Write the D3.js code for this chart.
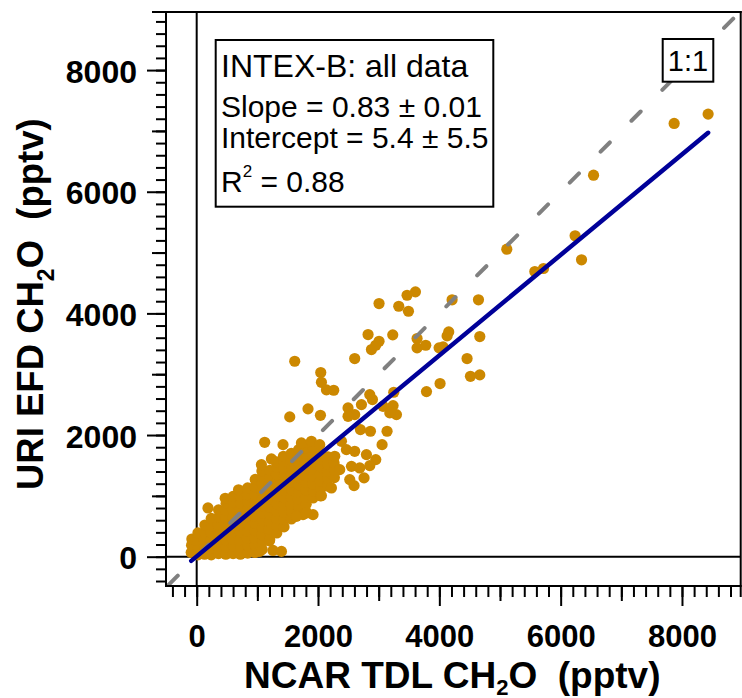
<!DOCTYPE html>
<html>
<head>
<meta charset="utf-8">
<script src="https://cdn.jsdelivr.net/npm/d3@7"></script>
<style>
  body { margin: 0; background: #fff; }
  text { font-family: "Liberation Sans", Arial, Helvetica, sans-serif; }
</style>
</head>
<body>
<svg id="chart"></svg>
<script>
// NCAR TDL (x) vs URI EFD (y) CH2O, pptv
// dense cloud near the origin
const clusterPts = [
  [-90,70],[-85,190],[-80,290],
  [20,30],[25,150],[15,270],[20,390],
  [130,40],[135,160],[125,280],[130,400],[135,520],
  [240,30],[245,150],[235,270],[240,390],[245,510],[240,630],[186,801],
  [360,50],[355,170],[365,290],[360,410],[355,530],[365,650],[360,770],
  [480,40],[485,160],[475,280],[480,400],[485,520],[475,640],[480,760],[485,880],[470,960],
  [600,50],[605,170],[595,290],[600,410],[605,530],[595,650],[600,770],[605,890],[600,990],
  [720,40],[725,160],[715,280],[720,400],[725,520],[715,640],[720,760],[725,880],[715,1000],[690,1100],
  [840,60],[845,180],[835,300],[840,420],[845,540],[835,660],[840,780],[845,900],[835,1020],[840,1130],
  [960,70],[965,190],[955,310],[960,430],[965,550],[955,670],[960,790],[965,910],[955,1030],[960,1150],[965,1270],
  [1039,87],
  [1080,120],[1085,240],[1075,360],[1080,480],[1085,600],[1075,720],[1080,840],[1085,960],[1075,1080],[1080,1200],[1085,1320],[1075,1410],
  [1200,260],[1205,340],[1195,460],[1200,580],[1205,700],[1195,820],[1200,940],[1205,1060],[1195,1180],[1200,1300],[1205,1420],
  [1232,1607],[1067,1513],[1258,103],[1204,280],[1397,87],
  [1320,390],[1325,510],[1315,630],[1320,750],[1325,870],[1315,990],[1320,1110],[1325,1230],[1315,1350],[1320,1470],[1310,1560],
  [1440,490],[1445,610],[1435,730],[1440,850],[1445,970],[1435,1090],[1440,1210],[1445,1330],[1435,1450],[1440,1570],[1430,1650],
  [1560,620],[1565,740],[1555,860],[1560,980],[1565,1100],[1555,1220],[1560,1340],[1565,1460],[1555,1580],[1560,1700],
  [1680,700],[1685,820],[1675,940],[1680,1060],[1685,1180],[1675,1300],[1680,1420],[1685,1540],[1675,1660],[1680,1760],
  [1800,740],[1805,860],[1795,980],[1800,1100],[1805,1220],[1795,1340],[1800,1460],[1805,1580],[1795,1700],[1800,1780],
  [1918,691],[1918,966],[1925,1080],[1915,1200],[1920,1320],[1925,1440],[1915,1560],[1920,1680],[1925,1780],
  [2040,1000],[2045,1120],[2035,1240],[2040,1360],[2045,1480],[2035,1600],[2040,1700],
  [2160,1160],[2165,1280],[2155,1400],[2160,1520],[2165,1640],
  [2270,1300],[2275,1420],[2265,1540]
];
// scattered points around the cloud and the high end
const scatterPts = [
  [1616,3213],[2045,3027],[2056,2867],[2139,2743],[2259,2736],[1534,2298],[1835,2430],[2040,2324],
  [1121,1880],[1423,1842],[1726,1870],[1891,1897],[2028,1842],[2386,1897],[2468,1760],[2605,1732],
  [2798,1678],[2952,1596],[2551,1485],[2688,1459],[2853,1497],[2759,1295],[2523,1267],[2594,1168],
  [2358,1431],[2221,1130],[2056,1003],[1753,691],[2276,1650],[2699,2089],[2864,2062],[3138,2062],
  [3056,1842],[1644,663],[1809,719],
  [3606,4354],[3468,4298],[3006,4162],[3331,4117],[3491,4035],[2825,3652],[3232,3647],[3006,3542],
  [2952,3476],[2881,3405],[3633,3586],[3633,3433],[3776,3476],[3996,3433],[2605,3257],[3788,2714],
  [4012,2846],[2853,2665],[2897,2583],[2716,2500],[3249,2703],[3237,2484],[2495,2446],[3072,2472],
  [3293,2336],[3183,2364],[2605,2336],[2495,2308],
  [8431,7276],[7871,7123],[6542,6272],[5112,5055],[6238,5276],[6344,4881],[5574,4688],[5717,4738],
  [4210,4223],[4645,4223],[4155,3696],[4128,3630],[4667,3619],[4062,3449],[4457,3257],[4513,2966],[4667,2989]
];

const fitSlope = 0.826, fitIntercept = 5.4;
const majorTicks = [0, 2000, 4000, 6000, 8000];
const majorLabels = ["0", "2000", "4000", "6000", "8000"];
const mediumTicks = [1000, 3000, 5000, 7000];
const minorTicks = d3.range(-400, 8801, 200);
const statLines = ["INTEX-B: all data", "Slope = 0.83 \u00b1 0.01", "Intercept = 5.4 \u00b1 5.5"];
const r2Text = " = 0.88";

const width = 742, height = 698;
const svg = d3.select("#chart").attr("width", width).attr("height", height);

const x = d3.scaleLinear().domain([-506, 8968]).range([166, 740.7]);
const y = d3.scaleLinear().domain([-482, 8955]).range([586, 12]);
const plotL = x.range()[0], plotR = x.range()[1];
const plotB = y.range()[0], plotT = y.range()[1];

svg.append("defs").append("clipPath").attr("id", "plot")
  .append("rect")
  .attr("x", plotL).attr("y", plotT)
  .attr("width", plotR - plotL).attr("height", plotB - plotT);

// zero lines
svg.append("line")
  .attr("x1", x(0)).attr("x2", x(0)).attr("y1", plotT).attr("y2", plotB)
  .attr("stroke", "#000").attr("stroke-width", 2);
svg.append("line")
  .attr("x1", plotL).attr("x2", plotR).attr("y1", y(0)).attr("y2", y(0))
  .attr("stroke", "#000").attr("stroke-width", 2);

// markers
const allPts = clusterPts.concat(scatterPts);
svg.append("g").attr("clip-path", "url(#plot)")
  .selectAll("circle")
  .data(allPts)
  .join("circle")
  .attr("cx", d => x(d[0]))
  .attr("cy", d => y(d[1]))
  .attr("r", 5.6)
  .attr("fill", "#cc8800");

// 1:1 line
const lo = Math.max(x.domain()[0], y.domain()[0]);
const hi = Math.min(x.domain()[1], y.domain()[1]);
svg.append("line")
  .attr("clip-path", "url(#plot)")
  .attr("x1", x(lo)).attr("y1", y(lo))
  .attr("x2", x(hi)).attr("y2", y(hi))
  .attr("stroke", "#808080")
  .attr("stroke-width", 4)
  .attr("stroke-linecap", "round")
  .attr("stroke-dasharray", "13,30.7")
  .attr("stroke-dashoffset", -1.6);

// fit line over the data range
const fx = d3.extent(allPts, d => d[0]);
svg.append("line")
  .attr("x1", x(fx[0])).attr("y1", y(fitSlope * fx[0] + fitIntercept))
  .attr("x2", x(fx[1])).attr("y2", y(fitSlope * fx[1] + fitIntercept))
  .attr("stroke", "#000099")
  .attr("stroke-width", 4.5)
  .attr("stroke-linecap", "round");

// frame
const frame = svg.append("g").attr("stroke", "#000").attr("stroke-width", 2);
frame.append("line").attr("x1", plotL).attr("x2", plotL).attr("y1", plotT - 1).attr("y2", plotB + 1);
frame.append("line").attr("x1", plotL - 1).attr("x2", plotR + 1).attr("y1", plotB).attr("y2", plotB);
frame.append("line").attr("x1", 152).attr("x2", plotR + 1).attr("y1", plotT).attr("y2", plotT);
frame.append("line").attr("x1", plotR).attr("x2", plotR).attr("y1", plotT - 1).attr("y2", 597);

// ticks
function ticks(axisFn, scale, values, size, labels) {
  const a = axisFn(scale).tickValues(values).tickSize(size)
    .tickPadding(labels ? (axisFn === d3.axisLeft ? 10 : 20) : 0);
  a.tickFormat(labels ? (d, i) => majorLabels[i] : "");
  return a;
}
function styleAxis(g, size) {
  g.select(".domain").remove();
  g.selectAll(".tick line").attr("stroke", "#000").attr("stroke-width", 2);
  g.selectAll(".tick text")
    .attr("fill", "#000")
    .style("font-family", '"Liberation Sans", Arial, Helvetica, sans-serif')
    .style("font-size", (size || 32) + "px")
    .style("font-weight", "bold");
}
const yAxisG = svg.append("g").attr("transform", `translate(${plotL},0)`);
yAxisG.append("g").call(ticks(d3.axisLeft, y, minorTicks, 10, false)).call(styleAxis);
yAxisG.append("g").call(ticks(d3.axisLeft, y, mediumTicks, 14, false)).call(styleAxis);
yAxisG.append("g").call(ticks(d3.axisLeft, y, majorTicks, 19, true)).call(styleAxis, 32)
  .selectAll(".tick text").attr("dy", "0.38em");

const xAxisG = svg.append("g").attr("transform", `translate(0,${plotB})`);
xAxisG.append("g").call(ticks(d3.axisBottom, x, minorTicks, 11, false)).call(styleAxis);
xAxisG.append("g").call(ticks(d3.axisBottom, x, mediumTicks, 15, false)).call(styleAxis);
xAxisG.append("g").call(ticks(d3.axisBottom, x, majorTicks, 20, true)).call(styleAxis, 31)
  .selectAll(".tick text").attr("dy", "0.68em");

// axis titles
const xTitle = svg.append("text")
  .attr("x", 244).attr("y", 687.5)
  .style("font-size", "37px").style("font-weight", "bold")
  .style("white-space", "pre");
xTitle.append("tspan").text("NCAR TDL CH");
xTitle.append("tspan").attr("dy", 7).style("font-size", "22px").text("2");
xTitle.append("tspan").attr("dy", -7).text("O  (pptv)");

const yTitle = svg.append("text")
  .attr("transform", "rotate(-90)")
  .attr("x", -490).attr("y", 43)
  .style("font-size", "36.5px").style("font-weight", "bold")
  .style("white-space", "pre");
yTitle.append("tspan").text("URI EFD CH");
yTitle.append("tspan").attr("dy", 11).style("font-size", "23px").text("2");
yTitle.append("tspan").attr("dy", -11).text("O  (pptv)");

// stats box
svg.append("rect")
  .attr("x", 215.7).attr("y", 40).attr("width", 277.6).attr("height", 166.7)
  .attr("fill", "#fff").attr("stroke", "#000").attr("stroke-width", 2);
const lineY = [76.7, 117.3, 148.3];
statLines.forEach((t, i) => {
  svg.append("text")
    .attr("x", 221).attr("y", lineY[i])
    .style("font-size", i === 0 ? "32px" : "30px")
    .text(t);
});
const r2 = svg.append("text").attr("x", 221).attr("y", 192.3)
  .style("font-size", "30px").style("white-space", "pre");
r2.append("tspan").text("R");
r2.append("tspan").attr("dy", -15.6).style("font-size", "17px").text("2");
r2.append("tspan").attr("dy", 15.6).text(r2Text);

// 1:1 label
svg.append("rect")
  .attr("x", 662.7).attr("y", 39).attr("width", 50.6).attr("height", 42.7)
  .attr("fill", "#fff").attr("stroke", "#000").attr("stroke-width", 2);
svg.append("text")
  .attr("x", 688).attr("y", 71)
  .attr("text-anchor", "middle")
  .style("font-size", "29px")
  .text("1:1");
</script>
</body>
</html>
